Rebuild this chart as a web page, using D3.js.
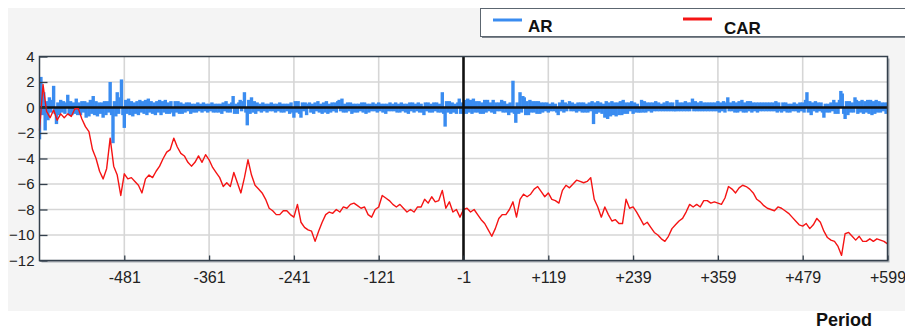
<!DOCTYPE html>
<html>
<head>
<meta charset="utf-8">
<script src="https://cdn.jsdelivr.net/npm/d3@7"></script>
<style>
  html, body { margin: 0; padding: 0; background: #ffffff; }
  svg { display: block; }
  text { font-family: "Liberation Sans", Arial, sans-serif; }
</style>
</head>
<body>
<svg id="chart" width="905" height="331"></svg>
<script>
// Event window: AR every 2nd day, CAR every 5th day, both from -601 to +599
const arPeriods = d3.range(-601, 600, 2);
const carPeriods = d3.range(-601, 600, 5);

// Abnormal returns (AR), one value per AR period
const arValues = [
  -2.5, 2.4, -0.6, 1.2, -1.8, 0.5, -1.0, 0.8, -0.4, 0.6, 1.7, -0.5, -1.3, 0.4, -0.6, 0.6, -0.4, 0.5, -0.5, 0.4, 1.0, -0.6, 0.5, -0.6, 0.4,
  -0.5, 0.7, -0.6, 0.4, -0.6, 0.5, -0.4, 0.5, -0.8, 0.4, -0.7, 0.6, -0.5, 0.9, -0.6, 0.5, -0.7, 0.4, -0.5, 0.4, -0.8, 0.5, -0.6, 0.5, -0.4,
  2.0, -0.6, -2.8, 0.5, -0.7, 1.2, -0.5, 0.8, 2.2, -0.6, -1.6, 0.6, -0.5, 0.7, -0.6, 0.5, -0.7, 0.4, -0.5, 0.5, -0.6, 0.6, -0.4, 0.5, -0.5,
  0.6, -0.6, 0.7, -0.4, 0.5, -0.5, 0.4, -0.6, 0.5, -0.4, 0.6, -0.6, 0.5, -0.4, 0.6, -0.5, 0.4, -0.5, 0.5, -0.4, -0.7, 0.5, -0.4, 0.5, -0.5,
  0.4, -0.5, 0.3, -0.4, 0.4, -0.3, 0.4, -0.5, 0.3, -0.4, 0.3, -0.4, 0.4, -0.3, 0.3, -0.4, 0.4, -0.3, 0.3, -0.4, 0.3, -0.3, 0.4, -0.4, 0.3,
  -0.4, 0.3, -0.4, 0.3, -0.5, 0.4, -0.3, 0.5, -0.4, 0.3, -0.4, 0.4, 0.9, -0.5, 0.3, -0.5, 0.4, 0.6, -0.3, 0.5, 1.2, -0.4, -1.4, 0.6, -0.5,
  0.8, -0.4, 0.5, -0.5, 0.4, -0.3, 0.3, -0.4, 0.4, -0.3, 0.3, -0.4, 0.3, -0.3, 0.4, -0.3, 0.3, -0.4, 0.3, -0.3, 0.4, -0.4, 0.3, -0.4, 0.3,
  -0.3, 0.3, -0.5, 0.4, -0.4, -0.8, 0.5, -0.4, 0.5, -0.5, -0.8, 0.4, -0.3, 0.4, -0.6, 0.3, 0.4, -0.4, 0.3, -0.5, 0.4, -0.3, 0.5, -0.4, 0.3,
  -0.5, 0.4, -0.4, 0.5, -0.5, 0.3, -0.4, 0.4, -0.3, 0.4, -0.4, 0.5, 0.6, -0.3, 0.7, -0.4, 0.3, -0.4, 0.4, -0.3, 0.4, -0.5, 0.3, -0.4, 0.3,
  -0.4, 0.3, -0.3, 0.4, -0.4, 0.4, -0.5, 0.3, -0.4, 0.3, -0.3, 0.4, -0.3, 0.3, -0.4, 0.4, -0.3, 0.3, -0.4, 0.3, -0.5, 0.3, -0.3, 0.4, -0.3,
  0.3, -0.3, 0.4, -0.4, 0.3, -0.4, 0.4, -0.3, 0.3, -0.4, 0.3, -0.5, 0.4, -0.3, 0.4, -0.4, 0.3, -0.3, 0.4, -0.4, 0.3, -0.4, -0.6, 0.4, -0.3,
  0.4, -0.4, 0.3, -0.4, 0.4, -0.3, 0.4, -0.4, 0.3, -0.4, 1.2, -0.5, -1.5, 0.5, -0.4, 0.5, -0.5, 0.4, -0.4, 0.3, -0.5, 0.4, 0.7, -0.5, 0.4,
  -0.5, 0.6, -0.5, 0.7, -0.4, 0.6, -0.5, 0.7, -0.4, 0.5, -0.4, 0.5, -0.5, 0.4, -0.5, 0.6, -0.4, 0.6, -0.3, 0.4, -0.4, 0.6, -0.5, 0.4, -0.3,
  0.4, -0.3, 0.6, -0.4, 0.5, -0.4, 0.3, -0.6, 0.4, -0.4, 2.1, -0.5, -1.2, 0.4, -0.5, 1.2, -0.4, 0.9, 0.8, -0.6, 0.5, -0.6, 0.6, -0.4, 0.5,
  -0.4, 0.5, -0.5, 0.5, -0.5, 0.4, -0.4, 0.4, -0.3, 0.4, -0.4, 0.3, -0.3, 0.4, -0.3, 0.3, -0.4, -0.6, 0.4, -0.3, 0.6, -0.4, 0.4, -0.3, 0.3,
  0.5, -0.3, 0.4, -0.3, 0.3, -0.4, 0.4, -0.3, 0.4, -0.4, 0.4, -0.4, 0.3, -0.4, 0.4, -0.3, 0.5, -1.3, 0.4, -0.5, 0.5, -0.4, 0.4, -0.5, 0.3,
  -0.8, 0.5, -0.9, 0.4, -0.7, 0.5, -0.6, 0.4, -0.7, 0.4, -0.6, 0.5, -0.6, 0.6, -0.5, 0.4, -0.5, 0.4, -0.3, 0.5, -0.5, 0.4, -0.4, 0.3, -0.4,
  -0.4, 0.6, -0.4, 0.5, -0.4, 0.4, -0.3, 0.4, -0.4, 0.4, -0.3, 0.5, -0.3, 0.4, -0.3, 0.3, -0.3, 0.4, -0.3, 0.5, -0.3, 0.4, -0.3, 0.4, -0.3,
  -0.3, 0.6, -0.3, 0.4, -0.3, 0.4, -0.3, 0.5, -0.3, 0.4, -0.3, 0.4, 0.7, -0.3, 0.5, -0.3, 0.4, -0.3, 0.5, -0.3, 0.4, -0.3, 0.4, -0.3, 0.4,
  -0.3, 0.4, -0.3, 0.4, -0.3, 0.5, -0.4, 0.4, -0.3, 0.5, -0.4, 0.4, 0.8, -0.3, 0.4, -0.3, 0.5, -0.4, 0.4, -0.4, 0.5, -0.3, 0.6, -0.4, 0.4,
  -0.4, 0.5, -0.3, 0.5, -0.4, 0.4, -0.3, 0.4, -0.4, 0.4, -0.3, 0.4, -0.3, 0.4, -0.3, 0.4, -0.3, 0.4, -0.3, 0.4, -0.3, 0.5, -0.4, 0.4, -0.3,
  -0.4, 0.4, -0.3, 0.4, -0.4, 0.3, -0.4, 0.3, -0.3, 0.4, -0.3, 0.3, -0.4, 0.4, -0.3, 0.4, -0.4, 0.6, 1.2, -0.4, 0.5, -0.6, 0.4, -0.3, 0.5,
  -0.4, 0.4, -0.3, 0.4, -0.4, -0.8, 0.3, -0.4, 0.3, -0.4, 0.4, -0.3, 0.6, -0.5, 0.4, -0.5, 0.6, 1.3, 1.1, -0.5, -0.9, 0.5, -0.6, 0.5, -0.4,
  0.4, -0.4, 0.8, 0.6, -0.5, 0.5, -0.4, 0.6, -0.5, 0.5, -0.4, 0.6, -0.5, 0.6, -0.6, 0.5, -0.5, 0.6, -0.4, 0.5, -0.4, 0.4, -0.3, 0.4, -0.5,
  0.4
];

// Cumulative abnormal returns (CAR), one value per CAR period
const carValues = [
  -1.8, 1.8, -0.3, -0.8, -0.2, -1.0, -0.5, -0.8, -0.5, -0.7,
  -0.1, -0.1, -0.9, -1.5, -1.9, -3.3, -4.0, -5.0, -5.6, -4.8,
  -2.4, -4.6, -5.3, -6.9, -5.2, -5.6, -5.5, -5.8, -6.1, -6.7,
  -5.6, -5.3, -5.5, -5.0, -4.6, -4.0, -3.5, -3.3, -2.4, -3.1,
  -3.6, -3.8, -4.3, -4.6, -4.3, -3.8, -4.3, -3.7, -4.1, -4.7,
  -5.1, -5.5, -6.2, -5.9, -6.2, -5.1, -5.9, -6.7, -5.5, -4.1,
  -5.3, -6.1, -6.4, -6.7, -7.2, -7.9, -8.1, -8.4, -8.4, -8.1,
  -8.1, -8.4, -8.6, -7.6, -9.0, -9.4, -9.6, -9.7, -10.5, -9.7,
  -9.0, -8.4, -8.2, -8.3, -8.0, -8.2, -7.8, -7.9, -7.6, -7.5,
  -7.7, -7.9, -7.8, -8.4, -8.6, -8.0, -7.8, -6.9, -7.1, -7.3,
  -7.6, -7.8, -7.6, -7.9, -8.2, -8.0, -8.2, -7.8, -7.8, -7.2,
  -7.5, -7.0, -7.4, -7.3, -6.5, -7.9, -7.4, -8.2, -8.0, -8.6,
  -8.0, -7.9, -8.2, -8.0, -8.4, -8.8, -9.1, -9.6, -10.1, -9.5,
  -8.7, -8.4, -8.4, -8.0, -7.4, -8.6, -7.2, -6.8, -7.0, -6.8,
  -6.4, -6.2, -6.6, -7.0, -6.7, -7.2, -7.3, -7.5, -6.5, -6.1,
  -6.3, -6.0, -5.7, -5.8, -5.9, -5.8, -5.5, -7.2, -7.8, -8.6,
  -7.8, -8.4, -8.9, -8.8, -9.1, -9.1, -7.2, -7.9, -7.8, -8.2,
  -8.7, -9.2, -9.0, -9.4, -9.8, -10.0, -10.3, -10.5, -10.1, -9.5,
  -9.2, -8.9, -8.7, -8.2, -7.6, -7.8, -7.6, -7.8, -7.3, -7.3,
  -7.5, -7.4, -7.5, -7.6, -7.1, -6.2, -6.4, -6.7, -6.3, -6.1,
  -6.2, -6.4, -6.7, -7.2, -7.4, -7.7, -7.9, -8.0, -8.1, -7.8,
  -7.9, -8.1, -8.3, -8.6, -8.9, -9.2, -9.3, -9.1, -9.5, -9.2,
  -8.7, -9.0, -9.7, -10.2, -10.4, -10.5, -10.9, -11.6, -9.9, -9.8,
  -10.1, -10.4, -10.1, -10.5, -10.5, -10.3, -10.5, -10.3, -10.4, -10.5, -10.7
];

// Axis ticks
const xTickValues = [-481, -361, -241, -121, -1, 119, 239, 359, 479, 599];
const xTickLabels = ["-481", "-361", "-241", "-121", "-1", "+119", "+239", "+359", "+479", "+599"];
const yTickValues = [4, 2, 0, -2, -4, -6, -8, -10, -12];

const seriesNames = ["AR", "CAR"];
const seriesColors = ["#3a8cf0", "#f51414"];

const svg = d3.select("#chart");

const plot = { left: 39.5, right: 887.5, top: 56.5, bottom: 260.5 };

const x = d3.scaleLinear().domain([-601, 599]).range([plot.left, plot.right]);
const y = d3.scaleLinear().domain([-12, 4]).range([plot.bottom, plot.top]);

// Light grey panel behind the chart
svg.append("rect")
  .attr("x", 8).attr("y", 8).attr("width", 905 - 8).attr("height", 303)
  .attr("fill", "#f4f4f4");

// Frame shadow and plot background
svg.append("rect")
  .attr("x", plot.left + 2).attr("y", plot.top + 2)
  .attr("width", plot.right - plot.left).attr("height", plot.bottom - plot.top)
  .attr("fill", "#a8adb3");
svg.append("rect")
  .attr("x", plot.left).attr("y", plot.top)
  .attr("width", plot.right - plot.left).attr("height", plot.bottom - plot.top)
  .attr("fill", "#ffffff");

// Grid lines
const grid = svg.append("g").attr("stroke", "#d6d6d6").attr("stroke-width", 1.6);
grid.selectAll("line.h").data(yTickValues.filter(v => v !== 4 && v !== -12)).join("line")
  .attr("class", "h")
  .attr("x1", plot.left).attr("x2", plot.right)
  .attr("y1", d => y(d)).attr("y2", d => y(d));
grid.selectAll("line.v").data(xTickValues.filter(v => v !== 599 && v !== -1)).join("line")
  .attr("class", "v")
  .attr("x1", d => x(d)).attr("x2", d => x(d))
  .attr("y1", plot.top).attr("y2", plot.bottom);

// AR columns: each column is wider than the day spacing, so neighbours overlap
const barWidth = 3.4;
const arData = arPeriods.map((p, i) => ({ p, v: arValues[i] }));
const barLeft = d => Math.max(plot.left, x(d.p) - barWidth / 2);
const barRight = d => Math.min(plot.right, x(d.p) + barWidth / 2);
svg.append("g").attr("fill", seriesColors[0])
  .selectAll("rect").data(arData).join("rect")
  .attr("x", barLeft)
  .attr("width", d => barRight(d) - barLeft(d))
  .attr("y", d => Math.min(y(d.v), y(0)))
  .attr("height", d => Math.abs(y(d.v) - y(0)));

// Zero line
svg.append("line")
  .attr("x1", plot.left).attr("x2", plot.right)
  .attr("y1", y(0)).attr("y2", y(0))
  .attr("stroke", "#111").attr("stroke-width", 2.6);

// CAR line
const carData = carPeriods.map((p, i) => ({ p, v: carValues[i] }));
svg.append("path")
  .datum(carData)
  .attr("fill", "none")
  .attr("stroke", seriesColors[1])
  .attr("stroke-width", 1.4)
  .attr("stroke-linejoin", "round")
  .attr("d", d3.line().x(d => x(d.p)).y(d => y(d.v)));

// Event day marker
svg.append("line")
  .attr("x1", x(-1)).attr("x2", x(-1))
  .attr("y1", plot.top).attr("y2", plot.bottom)
  .attr("stroke", "#111").attr("stroke-width", 2.6);

// Plot frame
svg.append("rect")
  .attr("x", plot.left).attr("y", plot.top)
  .attr("width", plot.right - plot.left).attr("height", plot.bottom - plot.top)
  .attr("fill", "none").attr("stroke", "#34404c").attr("stroke-width", 1.5);

// Axes
const yAxis = d3.axisLeft(y).tickValues(yTickValues).tickSizeInner(-8).tickSizeOuter(0).tickPadding(5);
const yG = svg.append("g").attr("transform", `translate(${plot.left},0)`).call(yAxis);
yG.select(".domain").remove();
yG.selectAll(".tick line").attr("stroke", "#34404c").attr("stroke-width", 1.3);
yG.selectAll(".tick text").attr("font-size", 15).attr("fill", "#222")
  .attr("font-family", "Liberation Sans, Arial, sans-serif");

const xAxis = d3.axisBottom(x).tickValues(xTickValues)
  .tickFormat((d, i) => xTickLabels[i]).tickSizeInner(-5).tickSizeOuter(0).tickPadding(11);
const xG = svg.append("g").attr("transform", `translate(0,${plot.bottom})`).call(xAxis);
xG.select(".domain").remove();
xG.selectAll(".tick line").attr("stroke", "#34404c").attr("stroke-width", 1.3);
xG.selectAll(".tick text").attr("font-size", 16).attr("fill", "#222")
  .attr("font-family", "Liberation Sans, Arial, sans-serif");

// Axis title
svg.append("text")
  .attr("x", 844).attr("y", 326)
  .attr("text-anchor", "middle")
  .attr("font-size", 18).attr("font-weight", "bold").attr("fill", "#111")
  .attr("font-family", "Open Sans, Liberation Sans, sans-serif")
  .text("Period");

// Legend
const legend = svg.append("g");
legend.append("rect")
  .attr("x", 482).attr("y", 10).attr("width", 440).attr("height", 28)
  .attr("fill", "#7d848c");
legend.append("rect")
  .attr("x", 480.5).attr("y", 8.5).attr("width", 440).attr("height", 28)
  .attr("fill", "#ffffff").attr("stroke", "#5c6670").attr("stroke-width", 1);

const legendItems = [
  { lineX: 493, textX: 528, lineY: 20, textY: 32 },
  { lineX: 683, textX: 724, lineY: 19, textY: 34 }
];
legendItems.forEach((it, i) => {
  legend.append("line")
    .attr("x1", it.lineX).attr("x2", it.lineX + 29)
    .attr("y1", it.lineY).attr("y2", it.lineY)
    .attr("stroke", seriesColors[i]).attr("stroke-width", 3);
  legend.append("text")
    .attr("x", it.textX).attr("y", it.textY)
    .attr("font-size", 17).attr("font-weight", "bold").attr("fill", "#111")
    .attr("font-family", "Open Sans, Liberation Sans, sans-serif")
    .text(seriesNames[i]);
});
</script>
</body>
</html>
